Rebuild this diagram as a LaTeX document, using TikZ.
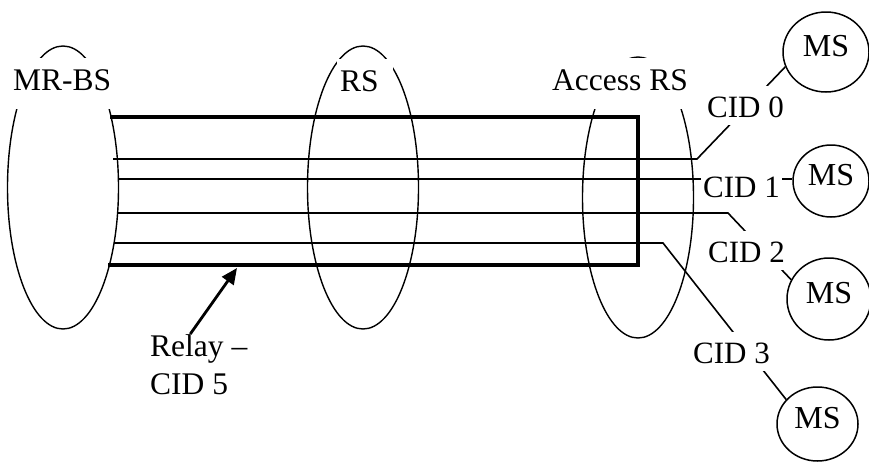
\documentclass[tikz,border=0pt]{standalone}
\usepackage{fontspec}
\setmainfont{Liberation Serif}
\usepackage{xcolor}
\usepackage{tikz}
\usetikzlibrary{arrows.meta,shapes.geometric}
\definecolor{ink}{HTML}{000000}
\definecolor{paper}{HTML}{FFFFFF}
\tikzset{
  cell/.style={draw=ink, ellipse, line width=1.4pt, inner sep=0pt},
  tube/.style={draw=ink, line width=3.6pt},
  chan/.style={draw=ink, line width=1.6pt},
  ms/.style={draw=ink, ellipse, line width=1.5pt, inner sep=0pt, text depth=12pt, font=\fontsize{32}{38}\selectfont},
  toplab/.style={fill=paper, anchor=base west, inner xsep=3pt, inner ysep=0pt, text height=32pt, text depth=19pt, font=\fontsize{31.5}{38}\selectfont},
  cidlab/.style={fill=paper, anchor=base west, inner xsep=2pt, inner ysep=0pt, text height=31pt, text depth=8pt, font=\fontsize{31}{38}\selectfont},
  rellab/.style={anchor=north west, inner sep=0pt, align=left, font=\fontsize{31.5}{38}\selectfont},
  relarr/.style={draw=ink, line width=2.8pt, -{Triangle[length=16pt,width=14pt]}},
}

\begin{document}
\begin{tikzpicture}[x=1pt,y=-1pt]
  \useasboundingbox (0,0) rectangle (869,461);

  % stations
  \node[cell, minimum width=111pt, minimum height=283pt] (bs) at (63,187.5) {};
  \node[cell, minimum width=111pt, minimum height=283pt] (rs) at (363,187.5) {};
  \node[cell, minimum width=111pt, minimum height=281pt] (ars) at (638,197.5) {};

  % relay tunnel
  \draw[tube] (110,117) -- (638,117) -- (638,265) -- (108,265);

  % mobile stations
  \node[ms, minimum width=86pt, minimum height=80pt] (ms0) at (826,52) {MS};
  \node[ms, minimum width=76pt, minimum height=72pt] (ms1) at (831,181) {MS};
  \node[ms, minimum width=84pt, minimum height=82pt] (ms2) at (829,299) {MS};
  \node[ms, minimum width=81pt, minimum height=74pt] (ms3) at (817.5,424) {MS};

  % connections
  \coordinate (s0) at (113,159); \coordinate (b0) at (697,159);
  \coordinate (s1) at (118,179);
  \coordinate (s2) at (117,213); \coordinate (b2) at (728,213);
  \coordinate (s3) at (114,243); \coordinate (b3) at (663,243);
  \draw[chan] (s0) -- (b0) -- (ms0.200);
  \draw[chan] (s1) -- (s1 -| ms1.west);
  \draw[chan] (s2) -- (b2) -- (ms2.153);
  \draw[chan] (s3) -- (b3) -- (ms3.142);

  % channel labels
  \foreach \i/\x/\y in {0/705/117,1/701/197,2/706/262,3/691/363}
    \node[cidlab] (cid\i) at (\x,\y) {CID \i};

  % station labels
  \node[toplab] (bslab) at (10,90) {MR-BS};
  \node[toplab, text width=50pt, align=left] (rslab) at (337,91) {RS};
  \node[toplab] (arslab) at (549,90) {Access RS};

  % relay label
  \node[rellab] (relay) at (150,334) {Relay –\\CID 5};
  \coordinate (rtip) at (237,268);
  \draw[relarr] ([xshift=-8.5pt]relay.north) -- (rtip);
\end{tikzpicture}
\end{document}
